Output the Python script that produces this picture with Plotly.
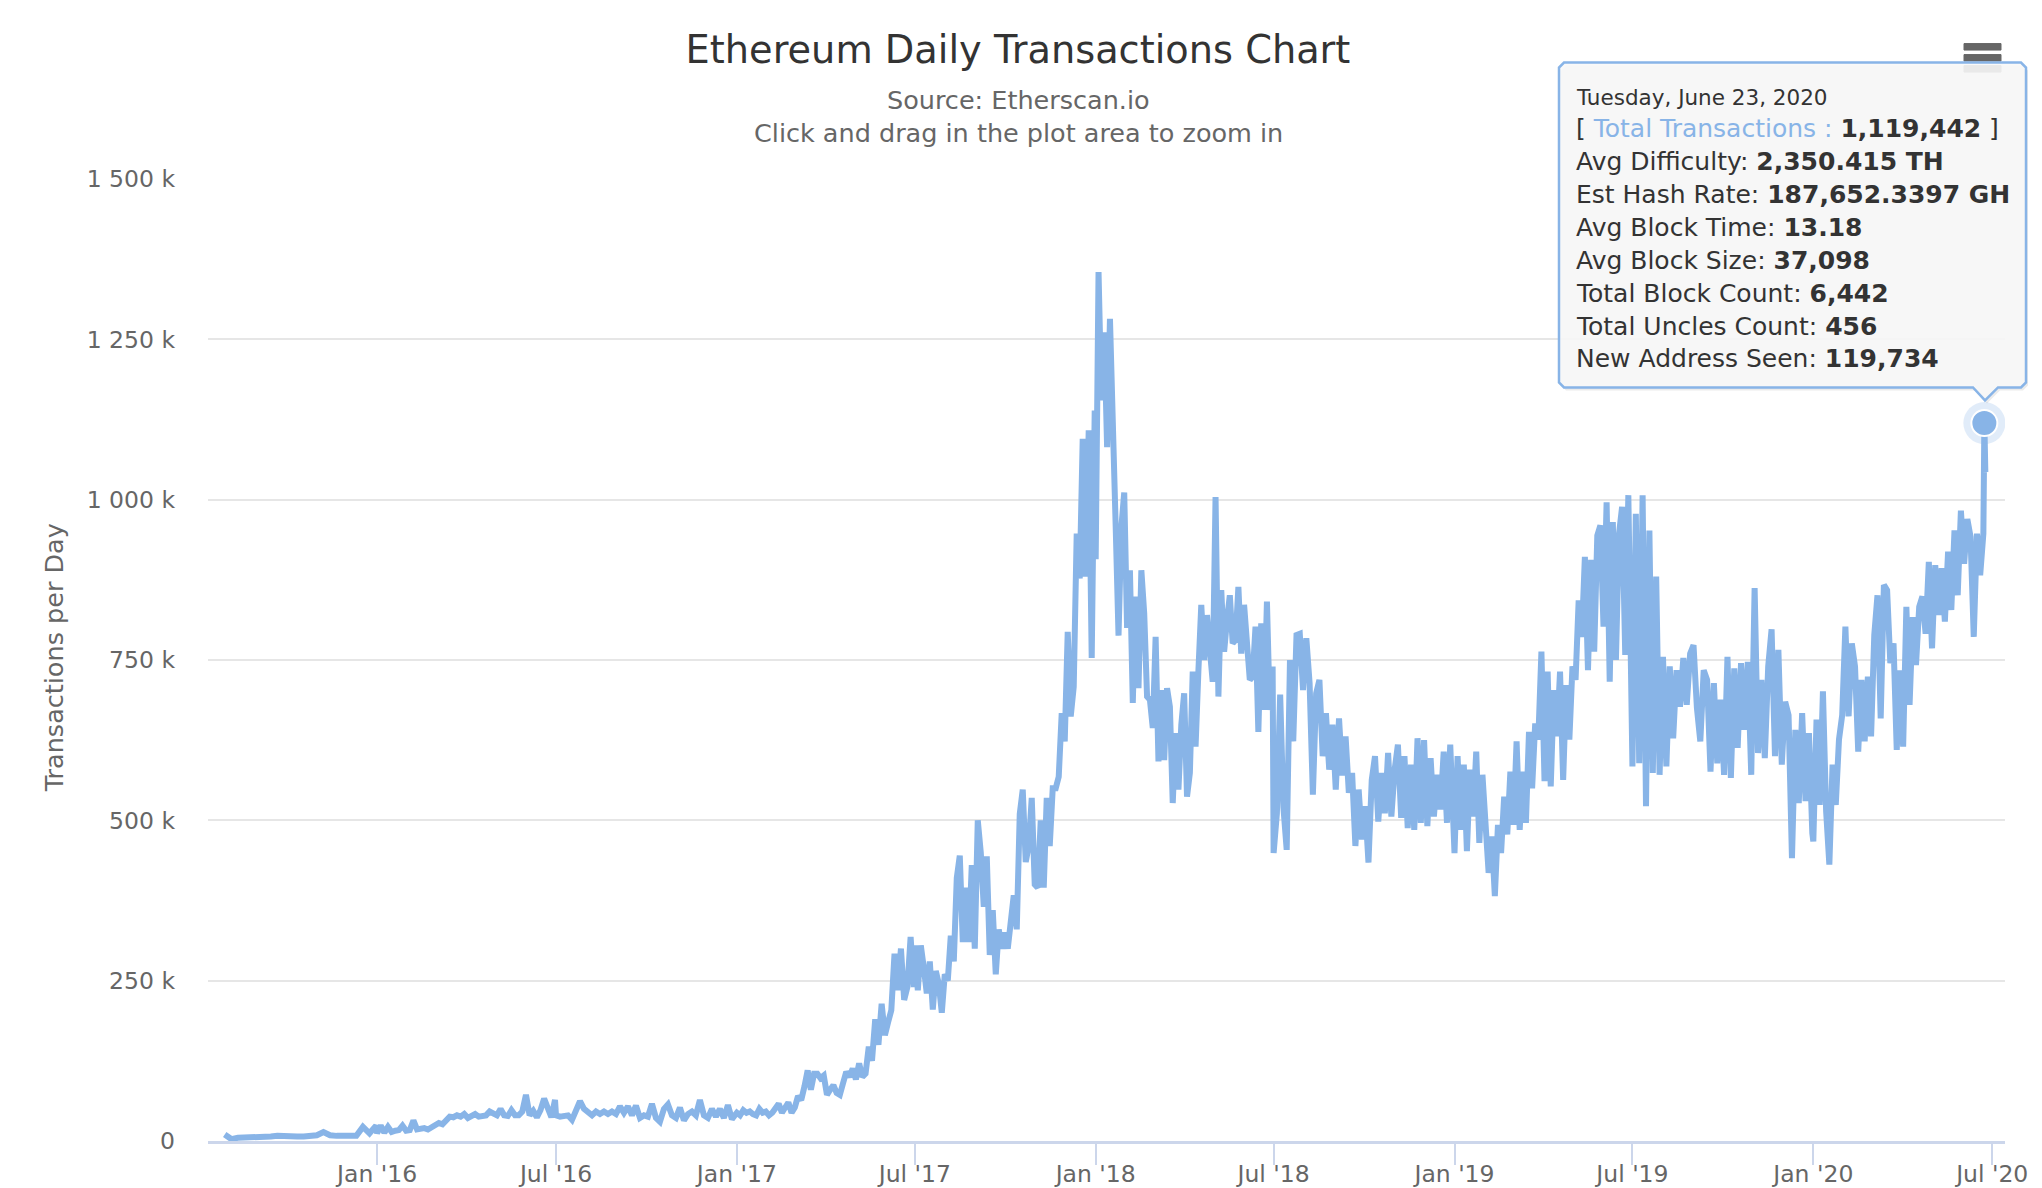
import pandas as pd
import plotly.graph_objects as go

W, H = 2042, 1188
PLOT_L, PLOT_R, PLOT_T, PLOT_B = 208, 2005, 178.5, 1141

LINE_COLOR = "#88b4e7"
FONT = "DejaVu Sans"

# daily transactions in thousands
tx_2015h2 = [10,3,5,5,6,6,7,7,8,7,7,7,7,8,9,14,9,8,8,8,8,22,12,24]
tx_2016h1 = [12,24,13,22,14,16,17,24,16,17,32,18,20,20,18,22,26,28,26,33,38,37,40,38,42,36,40,42,38,40,40,46,42,40,50,
             40,39,48,40,40,46,72,40,47,37,48,66,50,37,64]
tx_2016h2 = [40,38,38,40,33,46,62,50,44,40,46,42,46,42,46,42,54,44,54,40,55,36,40,38,58,36,30,50,57,40,36,52,32,42,46,40,
             64,40,36,50,38,50,36,56,34,40]
tx_2017h1 = [44,40,48,44,46,42,40,50,44,46,40,44,50,58,44,52,60,44,52,70,64,85,110,80,105,105,98,102,72,80,87,75,72,90,108,
             100,113,96,121,100,105,147,125,190,150,214,165,185,204,292,235,300,220,240,318,240]
tx_2017h2 = [305,235,305,270,230,280,205,265,245,200,260,250,320,280,410,445,310,395,310,430,300,500,450,365,444,290,360,260,
             330,300,325,300,350,383,330,510,548,435,460,535,400,395,500,395,535,460,550,550,
             568,667,623,794,662,708,947,877,1095,880,1108,753,1139]
tx_2018h1 = [907,1355,1155,1261,1082,1282,1082,960,788,957,1011,800,890,683,849,706,890,823,693,688,644,786,592,703,594,706,
             677,527,636,548,649,698,537,574,732,615,734,836,750,820,766,716,1004,693,859,763,812,851,776,781,864,760,836,
             758,719,724,802,638,807,672,841,672,740]
tx_2018h2 = [449,511,696,520,454,750,623,789,791,703,784,714,540,698,719,600,667,579,649,548,659,570,631,543,574,460,
             548,470,522,434,563,600,498,574,511,605,506,579,618,504,600,488,587,485,628,496,625,491,597,506,571,517,607,
             496,618,462]
tx_2019h1 = [449,600,485,587,452,579,506,607,465,571,506,418,475,382,493,449,537,478,576,493,623,485,576,496,638,550,651,626,
             763,561,732,553,703,631,732,563,711,626,740,719,843,786,911,734,906,763,944,960,802,996,716,965,750,947,989,
             758,1007,688]
tx_2019h2 = [584,978,589,1007,522,952,574,880,571,755,584,740,628,734,677,753,680,760,773,675,623,734,719,576,714,589,688,
             571,755,566,737,613,745,641,747,571,862,605,719,597,740,798,600,766,587,685,664,441,641,527,667,530,636,480]
tx_2020h1 = [467,657,524,701,514,431,587,524,626,664,802,662,776,740,607,719,623,724,631,789,851,659,867,859,745,776,610,734,
             615,833,680,817,742,833,849,791,903,768,898,820,893,810,919,828,952,851,983,900,970,942,786,947,882,947]
tx_tail_dates = ["2020-06-23", "2020-06-24"]
tx_tail = [1119.442, 1043]

segments = [
    ("2015-07-30", "2015-12-31", tx_2015h2),
    ("2016-01-01", "2016-06-30", tx_2016h1),
    ("2016-07-01", "2016-12-31", tx_2016h2),
    ("2017-01-01", "2017-06-30", tx_2017h1),
    ("2017-07-01", "2017-12-31", tx_2017h2),
    ("2018-01-01", "2018-06-30", tx_2018h1),
    ("2018-07-01", "2018-12-31", tx_2018h2),
    ("2019-01-01", "2019-06-30", tx_2019h1),
    ("2019-07-01", "2019-12-31", tx_2019h2),
    ("2020-01-01", "2020-06-22", tx_2020h1),
]

y_ticks = [0, 250, 500, 750, 1000, 1250, 1500]
y_labels = ["0", "250 k", "500 k", "750 k", "1 000 k", "1 250 k", "1 500 k"]
x_ticks = ["2016-01-01", "2016-07-01", "2017-01-01", "2017-07-01", "2018-01-01",
           "2018-07-01", "2019-01-01", "2019-07-01", "2020-01-01", "2020-07-01"]
x_labels = ["Jan '16", "Jul '16", "Jan '17", "Jul '17", "Jan '18",
            "Jul '18", "Jan '19", "Jul '19", "Jan '20", "Jul '20"]

tooltip_rows = [
    "Tuesday, June 23, 2020",
    f'[ <span style="color:{LINE_COLOR}">Total Transactions :</span> <b>1,119,442</b> ]',
    "Avg Difficulty: <b>2,350.415 TH</b>",
    "Est Hash Rate: <b>187,652.3397 GH</b>",
    "Avg Block Time: <b>13.18</b>",
    "Avg Block Size: <b>37,098</b>",
    "Total Block Count: <b>6,442</b>",
    "Total Uncles Count: <b>456</b>",
    "New Address Seen: <b>119,734</b>",
]
tooltip_row_y = [97, 128, 161, 194, 227, 260, 293, 326, 358]


def px(x):
    return (x - PLOT_L) / (PLOT_R - PLOT_L)


def py(y):
    return (PLOT_B - y) / (PLOT_B - PLOT_T)


def tooltip_path(dx=0, dy=0):
    l, r, t, b, c = 1559 + dx, 2026 + dx, 62 + dy, 387 + dy, 5
    tip_l, tip_r, tip_x, tip_y = 1973 + dx, 1998 + dx, 1985 + dx, 400 + dy
    pts = [(l + c, t), (r - c, t), (r, t + c), (r, b - c), (r - c, b), (tip_r, b), (tip_x, tip_y),
           (tip_l, b), (l + c, b), (l, b - c), (l, t + c)]
    return "M " + " L ".join(f"{px(a):.5f},{py(b_):.5f}" for a, b_ in pts) + " Z"


dates, values = [], []
for start, end, vals in segments:
    dates += list(pd.date_range(start, end, periods=len(vals)))
    values += vals
dates += list(pd.to_datetime(tx_tail_dates))
values += tx_tail

fig = go.Figure()
fig.add_trace(go.Scatter(x=dates, y=values, mode="lines", line=dict(color=LINE_COLOR, width=6), hoverinfo="skip"))
# hover marker on the last full day
fig.add_trace(go.Scatter(x=tx_tail_dates[:1], y=tx_tail[:1], mode="markers", hoverinfo="skip",
                         marker=dict(size=42, color=LINE_COLOR, opacity=0.25, line=dict(width=0))))
fig.add_trace(go.Scatter(x=tx_tail_dates[:1], y=tx_tail[:1], mode="markers", hoverinfo="skip",
                         marker=dict(size=26, color=LINE_COLOR, line=dict(color="white", width=2))))

shapes = []
# context menu icon, third bar shows through the tooltip
for top in [43, 54, 65]:
    shapes.append(dict(type="rect", xref="paper", yref="paper", x0=px(1964), x1=px(2001), y0=py(top), y1=py(top + 6.5),
                       fillcolor="#666666", line=dict(color="#666666", width=1)))
shapes.append(dict(type="path", xref="paper", yref="paper", path=tooltip_path(2, 3),
                   fillcolor="rgba(0,0,0,0.08)", line=dict(width=0)))
shapes.append(dict(type="path", xref="paper", yref="paper", path=tooltip_path(),
                   fillcolor="rgba(248,248,248,0.9)", line=dict(color=LINE_COLOR, width=2.5)))

annotations = [
    dict(text="Source: Etherscan.io", x=px(1018), y=py(99), font=dict(size=25.5, color="#666666")),
    dict(text="Click and drag in the plot area to zoom in", x=px(1018), y=py(132), font=dict(size=25.5, color="#666666")),
    dict(text="Transactions per Day", x=px(54), y=py(658), textangle=-90, font=dict(size=25.5, color="#666666")),
]
for i, (row, row_y) in enumerate(zip(tooltip_rows, tooltip_row_y)):
    annotations.append(dict(text=row, x=px(1574), y=py(row_y), xanchor="left", align="left",
                            font=dict(size=21.5 if i == 0 else 25, color="#333333")))
for a in annotations:
    a.update(xref="paper", yref="paper", showarrow=False)
    a.setdefault("xanchor", "center")
    a["yanchor"] = "middle"

fig.update_layout(
    width=W,
    height=H,
    margin=dict(l=PLOT_L, r=W - PLOT_R, t=PLOT_T, b=H - PLOT_B, pad=0, autoexpand=False),
    paper_bgcolor="white",
    plot_bgcolor="white",
    showlegend=False,
    font=dict(family=FONT, color="#666666"),
    title=dict(text="Ethereum Daily Transactions Chart", x=1018 / W, xanchor="center", y=1 - 49.5 / H, yanchor="middle",
               font=dict(size=38.3, color="#333333", family=FONT)),
    xaxis=dict(range=["2015-07-13", "2020-07-14"], tickvals=x_ticks, ticktext=x_labels, ticks="outside", ticklen=21,
               tickwidth=2, tickcolor="#ccd6eb", showgrid=False, showline=True, linecolor="#ccd6eb", linewidth=3,
               zeroline=False, tickfont=dict(size=23.5, color="#666666"), ticklabelstandoff=-11, automargin=False),
    yaxis=dict(range=[0, 1500], tickvals=y_ticks, ticktext=y_labels, gridcolor="#e6e6e6", gridwidth=2, zeroline=False,
               showline=False, ticks="", tickfont=dict(size=23.5, color="#666666"), ticklabelstandoff=32, automargin=False),
    shapes=shapes,
    annotations=annotations,
)

fig.write_html("out.html", config={"displayModeBar": False},
               post_script="document.body.style.margin='0';document.body.style.overflow='hidden';")
